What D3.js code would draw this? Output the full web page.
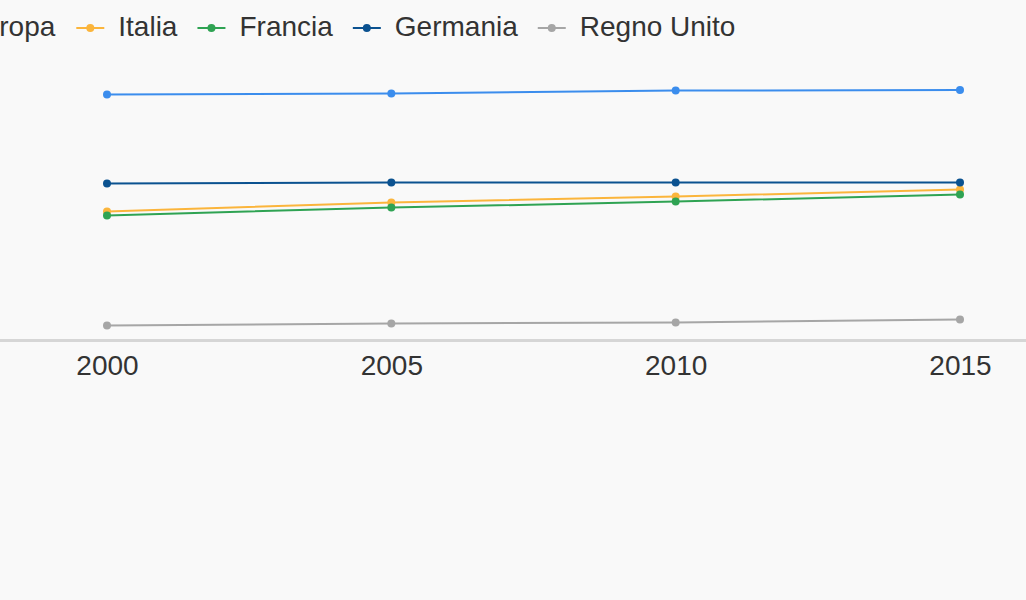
<!DOCTYPE html>
<html lang="it">
<head>
<meta charset="utf-8">
<script src="https://cdn.jsdelivr.net/npm/d3@7"></script>
<style>
  html, body { margin: 0; padding: 0; background: #f9f9f9; overflow: hidden; }
  text { font-family: "Liberation Sans", Arial, sans-serif; fill: #333; }
</style>
</head>
<body>
<div id="chart"></div>
<script>
// dati
var years = [2000, 2005, 2010, 2015];
var seriesNames = ["Europa", "Italia", "Francia", "Germania", "Regno Unito"];
var seriesColors = ["#3b8ded", "#fbb53c", "#2fa353", "#0b5290", "#a6a6a6"];
var europa = [82.0, 82.3, 83.3, 83.5];
var italia = [43.0, 46.0, 48.0, 50.3];
var francia = [41.7, 44.3, 46.3, 48.7];
var germania = [52.3, 52.7, 52.7, 52.7];
var regnoUnito = [5.0, 5.7, 6.0, 7.0];
var allValues = [europa, italia, francia, germania, regnoUnito];

var width = 1026, height = 600;

var svg = d3.select("#chart").append("svg")
  .attr("width", width)
  .attr("height", height);

var x = d3.scaleLinear().domain([2000, 2015]).range([107, 960]);
var y = d3.scaleLinear().domain([0, 100]).range([340.5, 40.5]);

// linea base
svg.append("line")
  .attr("x1", 0).attr("x2", width)
  .attr("y1", y(0)).attr("y2", y(0))
  .style("stroke", "#d6d6d6")
  .style("stroke-width", 3);

// asse x
var xAxis = d3.axisBottom(x)
  .tickValues(years)
  .tickFormat(d3.format("d"))
  .tickSize(0)
  .tickPadding(15);

var xg = svg.append("g")
  .attr("transform", "translate(0," + y(0) + ")")
  .call(xAxis);
xg.select(".domain").remove();
xg.selectAll("text")
  .style("font-size", "28px")
  .style("font-family", "'Liberation Sans', Arial, sans-serif")
  .attr("fill", "#333");

// linee
var line = d3.line()
  .x(function(d, i) { return x(years[i]); })
  .y(function(d) { return y(d); });

var series = svg.selectAll(".serie")
  .data(allValues)
  .enter().append("g")
  .attr("class", "serie");

series.append("path")
  .attr("d", line)
  .style("fill", "none")
  .style("stroke", function(d, i) { return seriesColors[i]; })
  .style("stroke-width", 2);

series.each(function(vals, i) {
  d3.select(this).selectAll("circle")
    .data(vals)
    .enter().append("circle")
    .attr("cx", function(d, j) { return x(years[j]); })
    .attr("cy", function(d) { return y(d); })
    .attr("r", 4)
    .style("fill", seriesColors[i]);
});

// legenda (parte sinistra tagliata come nell'originale)
var legend = svg.append("g");
var lx = -77;
seriesNames.forEach(function(name, i) {
  var item = legend.append("g").attr("transform", "translate(" + lx + ",0)");
  item.append("line")
    .attr("x1", 0).attr("x2", 28)
    .attr("y1", 28).attr("y2", 28)
    .style("stroke", seriesColors[i])
    .style("stroke-width", 2);
  item.append("circle")
    .attr("cx", 14).attr("cy", 28).attr("r", 4)
    .style("fill", seriesColors[i]);
  var t = item.append("text")
    .attr("x", 42).attr("y", 36)
    .style("font-size", "28px")
    .text(name);
  lx += 42 + t.node().getComputedTextLength() + (i === 0 ? 21 : 20);
});
</script>
</body>
</html>
